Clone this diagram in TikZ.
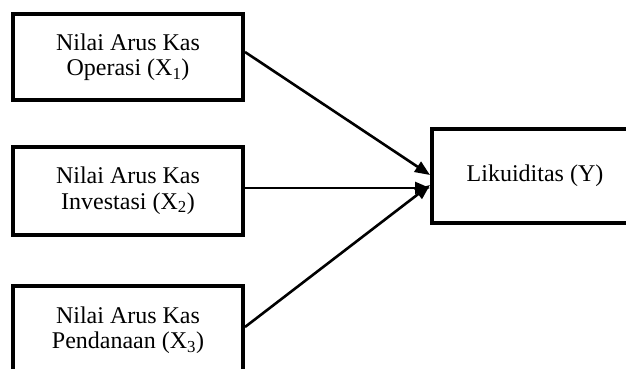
\documentclass[tikz,border=0pt]{standalone}
\usepackage{fontspec}
\setmainfont{Liberation Serif}
\usetikzlibrary{arrows.meta}
\begin{document}
\begin{tikzpicture}[x=1pt,y=-1pt,
  box/.style={draw=black, line width=4pt, fill=white, align=center,
    minimum width=230pt, inner sep=0pt,
    font=\fontsize{24}{25.5}\selectfont},
  arr/.style={line width=2.6pt, -{Triangle[length=15pt,width=12pt]}}]
\useasboundingbox (0,0) rectangle (626,369);
\node[box, minimum height=86pt] (x1) at (128,57) {Nilai Arus Kas\\Operasi (X\textsubscript{1})};
\node[box, minimum height=88pt] (x2) at (128,190.5) {Nilai Arus Kas\\Investasi (X\textsubscript{2})};
\node[box, minimum height=88pt] (x3) at (128,330) {Nilai Arus Kas\\Pendanaan (X\textsubscript{3})};
\node[box, minimum width=206pt, minimum height=94pt] (y) at (535,176) {Likuiditas (Y)};
\draw[arr] ([yshift=5pt]x1.east) -- ([yshift=1pt]y.west);
\draw[arr] ([yshift=2.5pt]x2.east) -- ([yshift=-12pt]y.west);
\draw[arr] ([yshift=3pt]x3.east) -- ([yshift=-9pt]y.west);
\end{tikzpicture}
\end{document}
